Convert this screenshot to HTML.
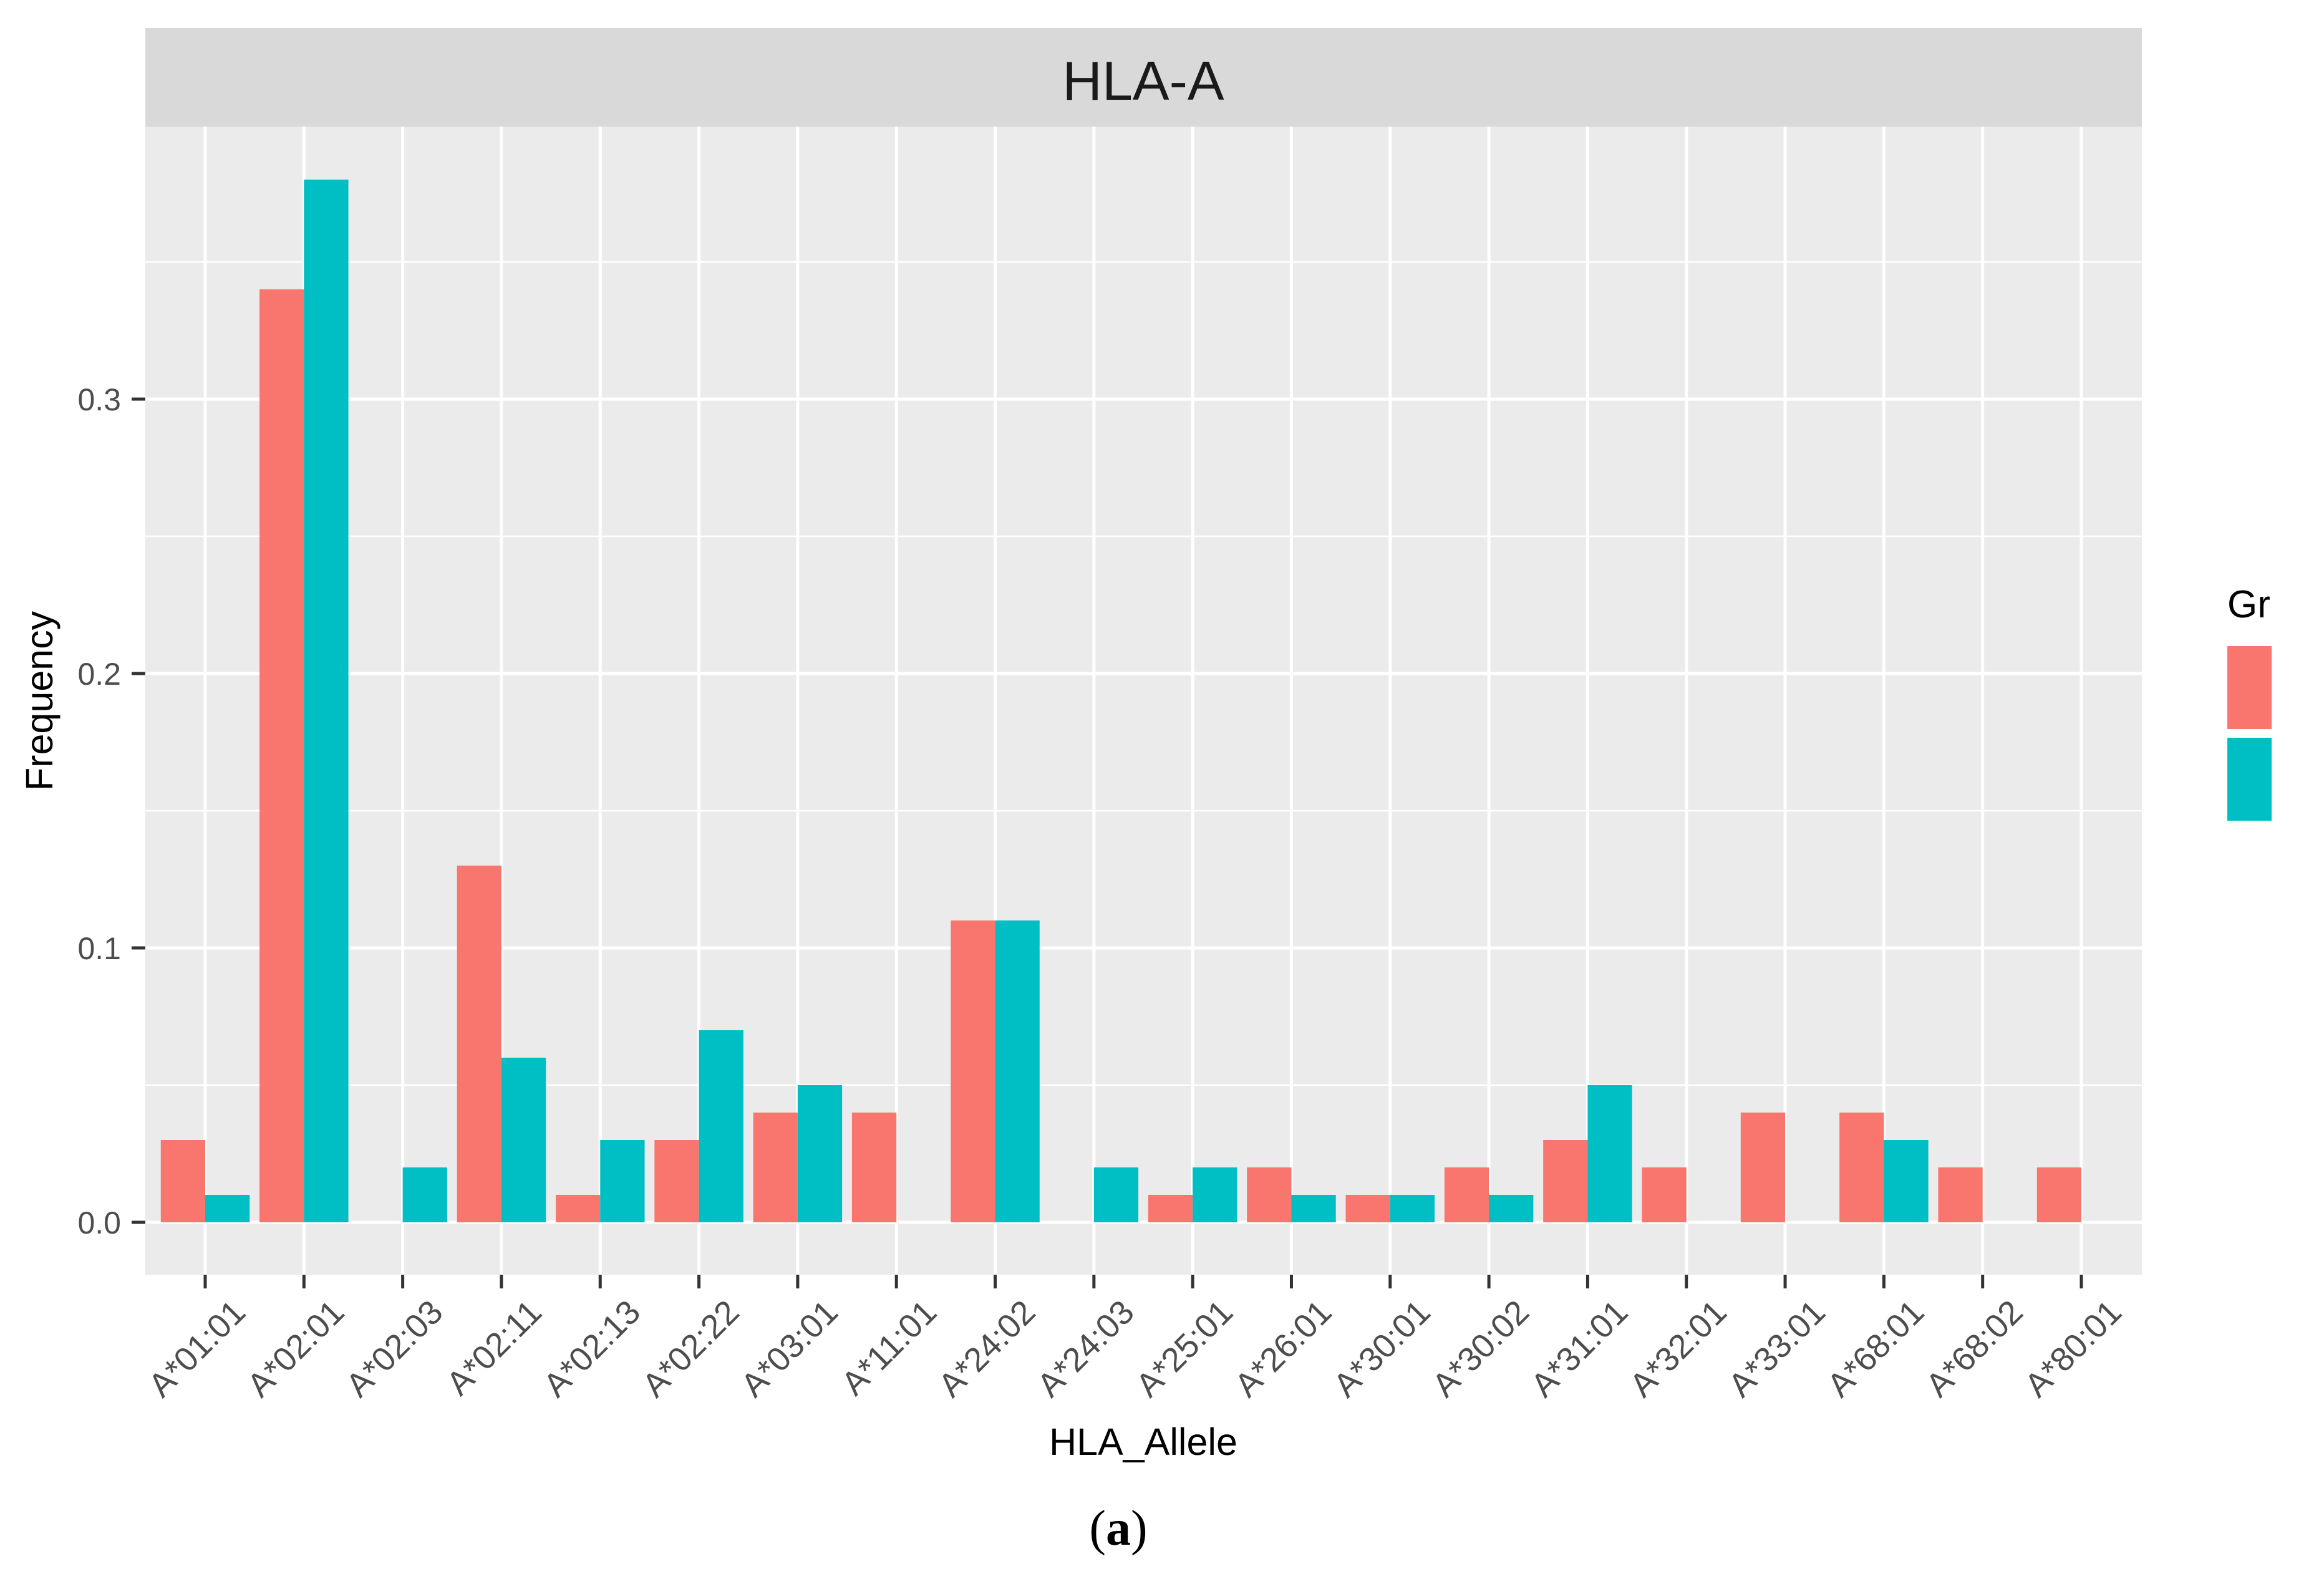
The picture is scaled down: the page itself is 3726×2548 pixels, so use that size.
<!DOCTYPE html>
<html><head><meta charset="utf-8"><style>
html,body{margin:0;padding:0;background:#fff;}
svg{display:block;font-family:"Liberation Sans",Arial,sans-serif;}
</style></head><body>
<svg id="chart" width="3726" height="2548" viewBox="0 0 3726 2548">
<rect x="233" y="45" width="3201" height="158" fill="#D9D9D9"/>
<text x="1833" y="160" font-size="88" text-anchor="middle" fill="#1a1a1a">HLA-A</text>
<rect x="233" y="203" width="3201" height="1841" fill="#EBEBEB"/>
<g id="grid"></g>
<g id="bars"></g>
<g id="axes"></g>
<text x="1833" y="2333" font-size="61" text-anchor="middle" fill="#000">HLA_Allele</text>
<text transform="translate(84,1124) rotate(-90)" font-size="61" text-anchor="middle" fill="#000">Frequency</text>
<text x="3571" y="990" font-size="62" fill="#000">Group</text>
<rect x="3571" y="1036" width="160" height="133" fill="#F8766D"/>
<rect x="3571" y="1183" width="160" height="133" fill="#00BFC4"/>
<rect x="3642" y="900" width="84" height="500" fill="#fff"/>
<text x="1793" y="2477" font-size="80" text-anchor="middle" fill="#000" font-family="'Liberation Serif',serif">(<tspan font-weight="bold">a</tspan>)</text>
</svg>
<script>
const categories = ["A*01:01","A*02:01","A*02:03","A*02:11","A*02:13","A*02:22","A*03:01","A*11:01","A*24:02","A*24:03","A*25:01","A*26:01","A*30:01","A*30:02","A*31:01","A*32:01","A*33:01","A*68:01","A*68:02","A*80:01"];
const group1 = [0.03,0.34,0,0.13,0.01,0.03,0.04,0.04,0.11,0,0.01,0.02,0.01,0.02,0.03,0.02,0.04,0.04,0.02,0.02];
const group2 = [0.01,0.38,0.02,0.06,0.03,0.07,0.05,0,0.11,0.02,0.02,0.01,0.01,0.01,0.05,0,0,0.03,0,0];
const yMajorTicks = [0,0.1,0.2,0.3];
const yTickLabels = ["0.0","0.1","0.2","0.3"];
const yMinorTicks = [0.05,0.15,0.25,0.35];

const NS="http://www.w3.org/2000/svg";
const X0=329, X1=3337, Y0=1960, YPX=4400;
const step=(X1-X0)/(categories.length-1);
function xScale(i){return X0+i*step;}
function yScale(v){return Y0-v*YPX;}
function mk(tag,attrs,parent){const e=document.createElementNS(NS,tag);for(const k in attrs)e.setAttribute(k,attrs[k]);parent.appendChild(e);return e;}
const grid=document.getElementById('grid'),bars=document.getElementById('bars'),axes=document.getElementById('axes');
yMinorTicks.forEach(v=>{
  const l=mk('line',{x1:233,x2:3434,y1:yScale(v),y2:yScale(v),stroke:'#fff','stroke-width':2.5},grid);
  
  
});
yMajorTicks.forEach((v,i)=>{
  const l=mk('line',{x1:233,x2:3434,y1:yScale(v),y2:yScale(v),stroke:'#fff','stroke-width':5},grid);
  
  
  const t=mk('line',{x1:211,x2:233,y1:yScale(v),y2:yScale(v),stroke:'#333','stroke-width':5},axes);
  
  
  const tx=mk('text',{x:194,y:yScale(v)+18,'font-size':50,'text-anchor':'end',fill:'#4d4d4d'},axes);
  tx.textContent=yTickLabels[i];
  
  
});
const bw=step*0.45;
categories.forEach((c,i)=>{
  const x=xScale(i);
  const l=mk('line',{x1:x,x2:x,y1:203,y2:2044,stroke:'#fff','stroke-width':5},grid);
  
  
  if(group1[i]>0){
    const r=mk('rect',{x:x-bw,y:yScale(group1[i]),width:bw,height:Y0-yScale(group1[i]),fill:'#F8766D'},bars);
    
    
  }
  if(group2[i]>0){
    const r=mk('rect',{x:x,y:yScale(group2[i]),width:bw,height:Y0-yScale(group2[i]),fill:'#00BFC4'},bars);
    
    
  }
  const t=mk('line',{x1:x,x2:x,y1:2044,y2:2066,stroke:'#333','stroke-width':5},axes);
  
  
  const tx=mk('text',{'font-size':54,'text-anchor':'end',fill:'#4d4d4d',transform:`translate(${x+40},${2080}) rotate(-45)`,dy:'0.72em'},axes);
  tx.textContent=c;
  
  
});
</script>
</body></html>
